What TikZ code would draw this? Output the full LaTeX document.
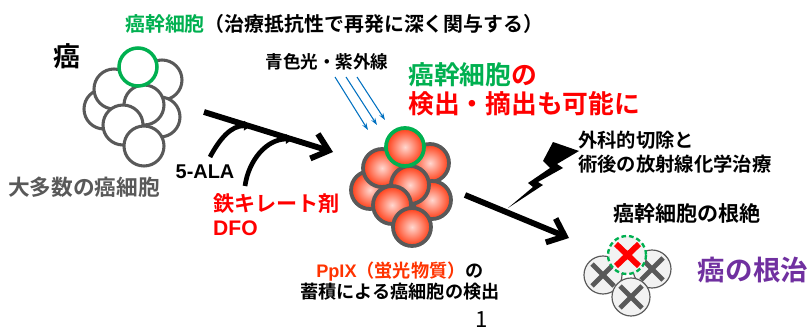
\documentclass[tikz,border=0pt]{standalone}
\usepackage{fontspec}
\setmainfont{Noto Sans CJK JP}[BoldFont={Noto Sans CJK JP Bold}]
\newfontfamily\lat{Liberation Sans}
\usepackage{tikz}
\usetikzlibrary{arrows.meta}

\definecolor{stemgreen}{HTML}{00B050}
\definecolor{cellgrey}{HTML}{595959}
\definecolor{ppixred}{HTML}{FF3300}
\definecolor{ballred}{HTML}{FF3A12}
\definecolor{curepurple}{HTML}{7030A0}
\definecolor{lightblue}{HTML}{0070C0}

\begin{document}
\begin{tikzpicture}[x=0.03cm,y=-0.03cm,
		txt/.style={inner sep=0pt,font=\bfseries},
		cell/.style={draw=cellgrey,line width=2.6pt,fill=white},
		ball/.style={draw=cellgrey,line width=3.2pt,inner color=white!80!ballred,outer color=ballred},
		dead/.style={draw=cellgrey,line width=1pt,fill=black!5},
		cross/.style={cellgrey,line width=4.2pt},
		bigarrow/.style={line width=5pt,-{Straight Barb[length=13pt,width=22pt]}},
		curvearrow/.style={line width=4pt,-{Triangle[length=6pt,width=8pt]}},
		beam/.style={lightblue,line width=0.9pt,-{Stealth[length=6pt,width=4pt]}}]
				\useasboundingbox (0,0) rectangle (810,329);

				\node[txt,anchor=west,font=\bfseries\fontsize{17}{20}\selectfont] (title) at (125,24) {\textcolor{stemgreen}{癌幹細胞}（治療抵抗性で再発に深く関与する）};
				\node[txt,font=\bfseries\fontsize{23}{26}\selectfont] (gan) at (67,56) {癌};

				\draw[cell] (162,80) circle (20);
				\draw[cell] (160,117) circle (20);
				\draw[cell] (104,109) circle (20);
				\draw[cell] (114,89) circle (20);
				\draw[cell] (144,105) circle (20);
				\draw[cell] (123,125) circle (20);
				\draw[cell] (144,146) circle (20);
				\draw[cell,draw=stemgreen,line width=3pt] (138,67) circle (19);
				\node[txt,text=cellgrey,font=\bfseries\fontsize{18.5}{20}\selectfont] (majority) at (84,187) {大多数の癌細胞};

				\coordinate (a1s) at (204,112);
				\coordinate (a1e) at (333,152);
				\draw[bigarrow] (a1s) -- (a1e);
				\coordinate (c1s) at (210,157);
				\coordinate (c1e) at (251,126);
				\coordinate (c2s) at (245,186);
				\coordinate (c2e) at (293,139);
				\draw[curvearrow] (c1s) to[out=62,in=178] (c1e);
				\draw[curvearrow] (c2s) to[out=82,in=180] (c2e);
				\node[txt,font=\lat\bfseries\fontsize{17}{18}\selectfont] (ala) at (205,172) {5-ALA};
				\node[txt,anchor=west,align=left,text=red,font=\bfseries\fontsize{18}{20.5}\selectfont] (dfo) at (213,215) {鉄キレート剤\\{\lat DFO}};

				\node[txt,font=\bfseries\fontsize{15}{17}\selectfont] (light) at (327,62) {青色光・紫外線};
				\foreach \sx/\ex/\ey in {335/368/130,346/377/125,357/385/120}
					\draw[beam] (\sx,77) -- (\ex,\ey);

				\draw[ball] (430,163) circle (19);
				\draw[ball] (432,200) circle (19);
				\draw[ball] (370,190) circle (19);
				\draw[ball] (382,168) circle (19);
				\draw[ball] (410,185) circle (19);
				\draw[ball] (392,205) circle (19);
				\draw[ball] (412,227) circle (19);
				\draw[ball,draw=stemgreen] (405,147) circle (19);
				\node[txt,align=left,anchor=west,text=red,font=\bfseries\fontsize{22}{25}\selectfont] (stemdet) at (408,89) {\textcolor{stemgreen}{癌幹細胞}の\\検出・摘出も可能に};
				\node[txt,align=center,font=\bfseries\fontsize{15.5}{18.5}\selectfont] (ppix) at (400,281) {\textcolor{ppixred}{{\lat PpIX}（蛍光物質）}の\\蓄積による癌細胞の検出};

				\coordinate (a2s) at (465,195);
				\coordinate (a2e) at (569,238);
				\draw[bigarrow] (a2s) -- (a2e);

				\fill (553,142) -- (579,151) -- (557,164) -- (563,168) -- (538,182) -- (543,185) -- (508,208)
					-- (533,187) -- (528,183) -- (550,168) -- (543,161) -- cycle;
				\node[txt,anchor=west,align=left,font=\bfseries\fontsize{16.5}{21}\selectfont] (surgery) at (578,152) {外科的切除と\\術後の放射線化学治療};

				\node[txt,font=\bfseries\fontsize{18}{20}\selectfont] (erad) at (687,213) {癌幹細胞の根絶};
				\draw[dead] (603,275) circle (19);
				\draw[dead] (652,269) circle (19);
				\draw[dead] (631,297) circle (19);
				\foreach \cx/\cy in {603/275,652/269,631/297}
					\draw[cross] (\cx-11,\cy-11) -- (\cx+11,\cy+11) (\cx-11,\cy+11) -- (\cx+11,\cy-11);
				\draw[dead,draw=stemgreen,line width=2pt,dash pattern=on 4pt off 2.5pt] (627,255) circle (19);
				\draw[cross,red,line width=5pt] (616,244) -- (639,266) (616,266) -- (639,244);
				\node[txt,text=curepurple,font=\bfseries\fontsize{23.5}{26}\selectfont] (cure) at (753,270) {癌の根治};

				\node[inner sep=0pt,font=\fontsize{19}{20}\selectfont] (page) at (482,320) {1};
			\end{tikzpicture}
\end{document}
